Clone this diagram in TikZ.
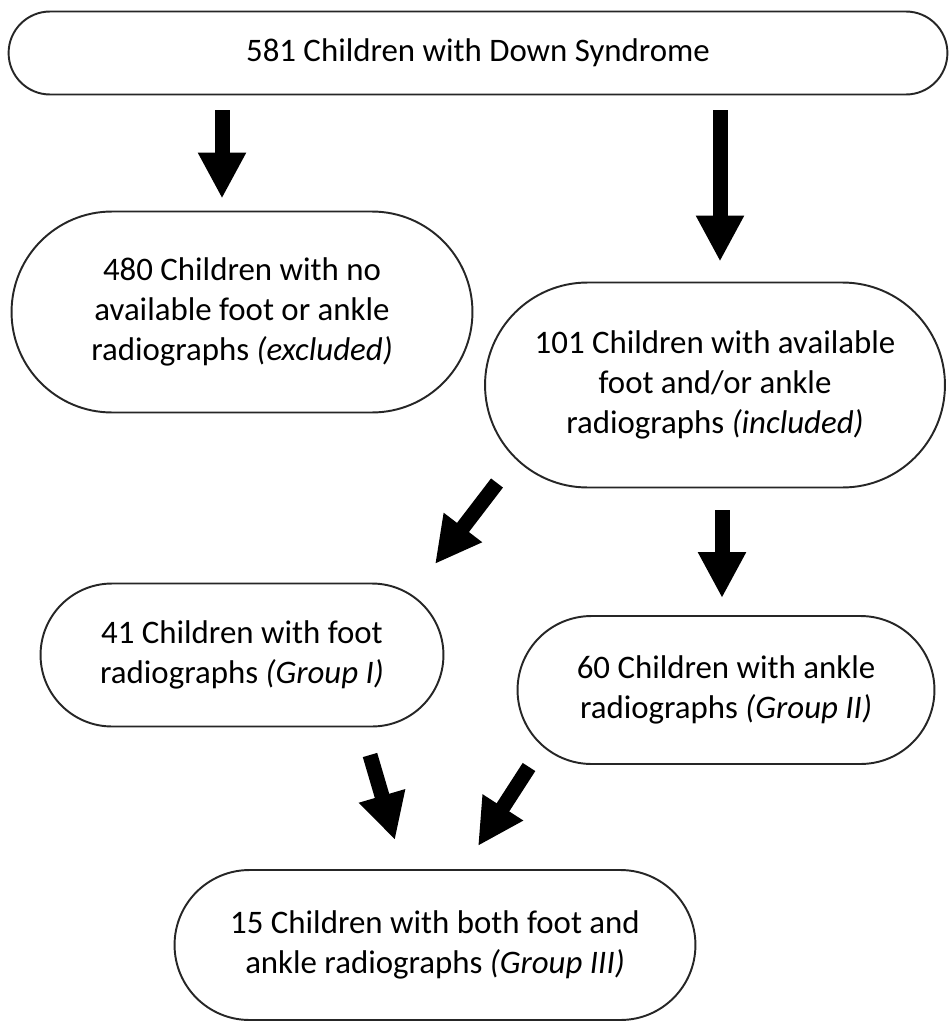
\documentclass[tikz,border=0pt]{standalone}
\usepackage{fontspec}
\setmainfont{Carlito}
\usetikzlibrary{shapes.misc,arrows.meta}

\begin{document}
\begin{tikzpicture}[x=0.02cm,y=-0.02cm]

  \useasboundingbox (0,0) rectangle (950,1021);

  % node styles
  \tikzstyle{Pill}=[
  shape=rounded rectangle,
  draw=black!85,
  line width=1.1pt,
  align=center,
  inner sep=0mm,
  font=\fontsize{18.7}{22.8}\selectfont]

  \tikzstyle{Fat}=[line width=0.3cm,-{Triangle[length=0.92cm,width=0.9cm]}]

  \node[Pill,minimum width=18.78cm,minimum height=1.66cm] (DS)    at (478,53)  {581 Children with Down Syndrome};

  \node[Pill,minimum width=9.22cm,minimum height=4.02cm]  (Excl)  at (242,312) {480 Children with no\\available foot or ankle\\radiographs \textit{(excluded)}};
  \node[Pill,minimum width=9.2cm,minimum height=4.1cm]    (Incl)  at (715,385) {101 Children with available\\foot and/or ankle\\radiographs \textit{(included)}};

  \node[Pill,minimum width=8.06cm,minimum height=2.86cm]  (Foot)  at (242,655) {41 Children with foot\\radiographs \textit{(Group I)}};
  \node[Pill,minimum width=8.34cm,minimum height=2.96cm]  (Ankle) at (726,690) {60 Children with ankle\\radiographs \textit{(Group II)}};

  \node[Pill,minimum width=10.42cm,minimum height=3cm]    (Both)  at (435,945) {15 Children with both foot and\\ankle radiographs \textit{(Group III)}};

  % arrows
  \draw[Fat] ([shift={(-256,15)}]DS.south) -- ([shift={(-20,-12)}]Excl.north);
  \draw[Fat] ([shift={(242,15)}]DS.south)  -- ([shift={(5,-20)}]Incl.north);

  \draw[Fat] ([shift={(-218,98)}]Incl.center) -- ([shift={(193,-91)}]Foot.center);
  \draw[Fat] ([shift={(7,22)}]Incl.south)     -- ([shift={(-4,-17)}]Ankle.north);

  \draw[Fat] ([shift={(128,100)}]Foot.center) -- ([shift={(-40,-105)}]Both.center);
  \draw[Fat] ([shift={(-197,77)}]Ankle.center) -- ([shift={(43,-99)}]Both.center);

\end{tikzpicture}
\end{document}
